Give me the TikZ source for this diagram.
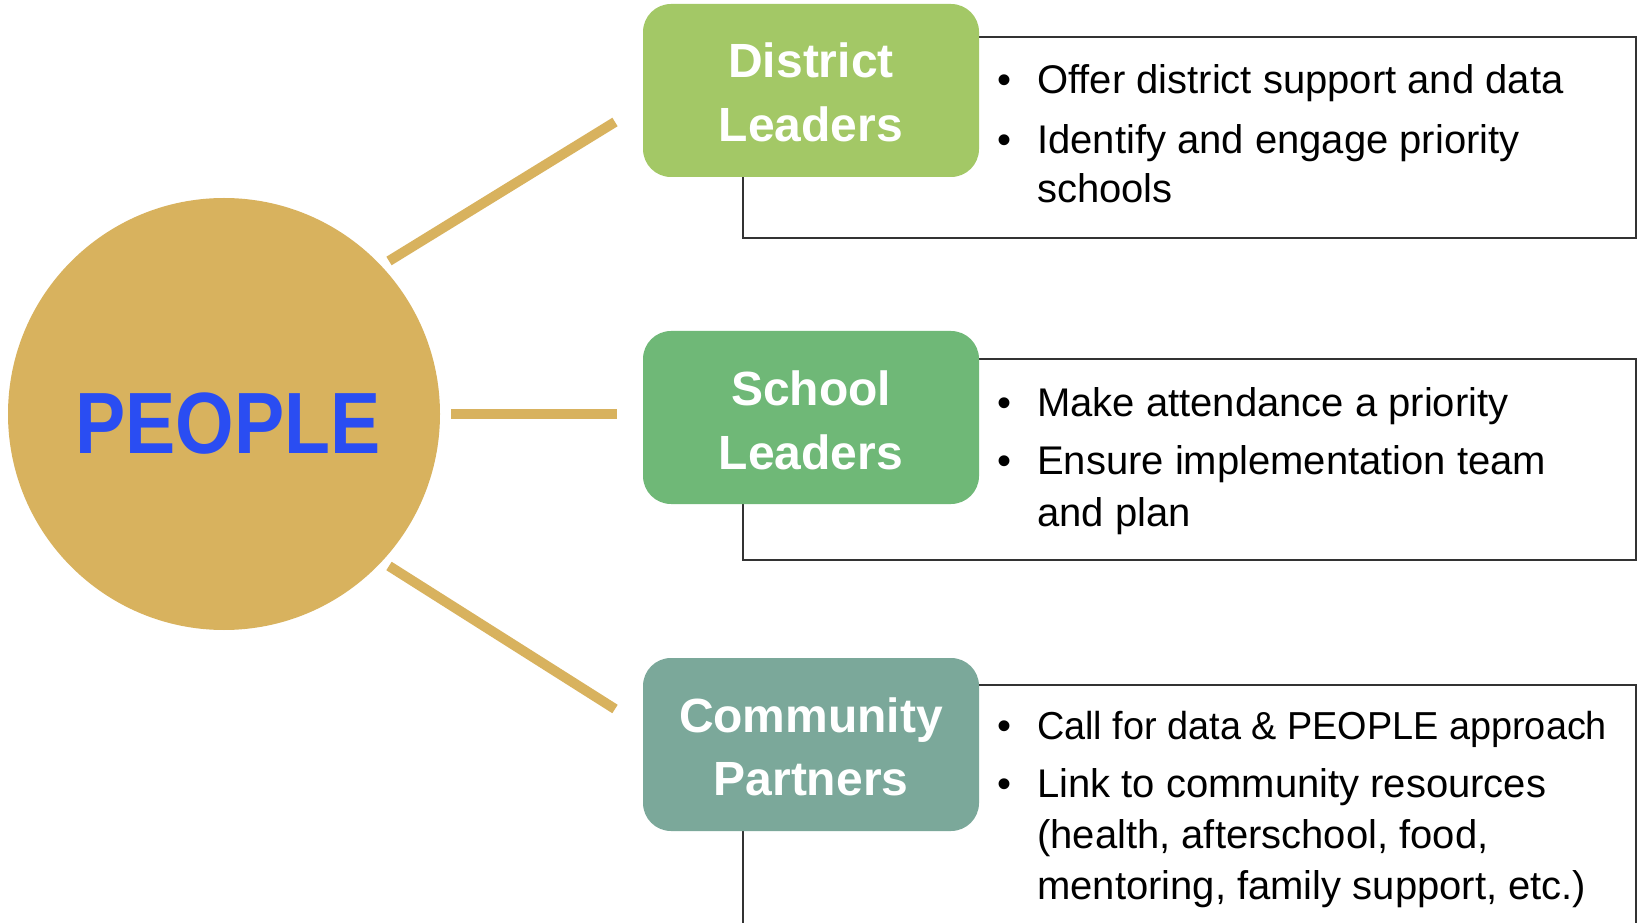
\documentclass[tikz,border=0pt]{standalone}
\usepackage{fontspec}
\setmainfont{Liberation Sans}
\newfontfamily\peoplefont{Liberation Sans}[FakeStretch=0.865]
\newfontfamily\tightfont{Liberation Sans}[FakeStretch=0.97]
\definecolor{gold}{HTML}{D8B25E}
\definecolor{pblue}{HTML}{2A4DF2}
\definecolor{gA}{HTML}{A3C866}
\definecolor{gB}{HTML}{6FB877}
\definecolor{gC}{HTML}{7BA89A}
\definecolor{framegray}{HTML}{333333}
\begin{document}
\begin{tikzpicture}[x=1pt,y=1pt,
  hub/.style={circle, fill=gold, minimum size=432pt, inner sep=0pt},
  spoke/.style={draw=gold, line width=10pt},
  panel/.style={draw=framegray, line width=1.3pt, fill=white, minimum width=893pt, inner sep=0pt},
  catbox/.style={rounded corners=28pt, minimum width=336pt, minimum height=173pt, inner sep=0pt},
  cattext/.style={text=white, font=\fontsize{48}{48}\selectfont\bfseries, anchor=base, inner sep=0pt},
  btext/.style={font=\fontsize{40}{40}\selectfont, anchor=base west, inner sep=0pt},
  bul/.style={font=\fontsize{40}{40}\selectfont, anchor=base, inner sep=0pt}
]
\useasboundingbox (0,0) rectangle (1640,922);
\fill[white] (0,0) rectangle (1640,922);

% hub
\node[hub] (hub) at (224,508) {};
\node[anchor=base, inner sep=0pt, text=pblue, font=\peoplefont\bfseries\fontsize{87}{87}\selectfont] (people) at (228,468) {PEOPLE};

% spokes
\coordinate (s1a) at (389,661); \coordinate (s1b) at (615,800);
\coordinate (s2a) at (451,508); \coordinate (s2b) at (617,508);
\coordinate (s3a) at (389,356); \coordinate (s3b) at (615,213);
\draw[spoke] (s1a) -- (s1b);
\draw[spoke] (s2a) -- (s2b);
\draw[spoke] (s3a) -- (s3b);

% panels
\node[panel, minimum height=201pt] (p1) at (1189.5,784.5) {};
\node[panel, minimum height=201pt] (p2) at (1189.5,462.5) {};
\node[panel, minimum height=270pt] (p3) at (1189.5,102) {};

% category boxes
\node[catbox, fill=gA] (b1) at (811,831.5) {};
\node[catbox, fill=gB] (b2) at (811,504.5) {};
\node[catbox, fill=gC] (b3) at (811,177.5) {};

\node[cattext] (t1a) at (811,844) {District};
\node[cattext] (t1b) at (811,780) {Leaders};
\node[cattext] (t2a) at (811,516) {School};
\node[cattext] (t2b) at (811,453) {Leaders};
\node[cattext] (t3a) at (811,190) {Community};
\node[cattext] (t3b) at (811,127) {Partners};

% row 1 bullets
\node[bul] (u11) at (1004,828) {•};
\node[btext] (l11) at (1037,828) {Offer district support and data};
\node[bul] (u12) at (1004,768) {•};
\node[btext] (l12) at (1037,768) {Identify and engage priority};
\node[btext] (l13) at (1037,719) {schools};

% row 2 bullets
\node[bul] (u21) at (1004,505) {•};
\node[btext] (l21) at (1037,505) {Make attendance a priority};
\node[bul] (u22) at (1004,447) {•};
\node[btext] (l22) at (1037,447) {Ensure implementation team};
\node[btext] (l23) at (1037,396) {and plan};

% row 3 bullets
\node[bul] (u31) at (1004,183) {•};
\node[btext, font=\tightfont\fontsize{39}{39}\selectfont] (l31) at (1037,183) {Call for data \& PEOPLE approach};
\node[bul] (u32) at (1004,125) {•};
\node[btext] (l32) at (1037,125) {Link to community resources};
\node[btext] (l33) at (1037,74) {(health, afterschool, food,};
\node[btext] (l34) at (1037,23) {mentoring, family support, etc.)};
\end{tikzpicture}
\end{document}
